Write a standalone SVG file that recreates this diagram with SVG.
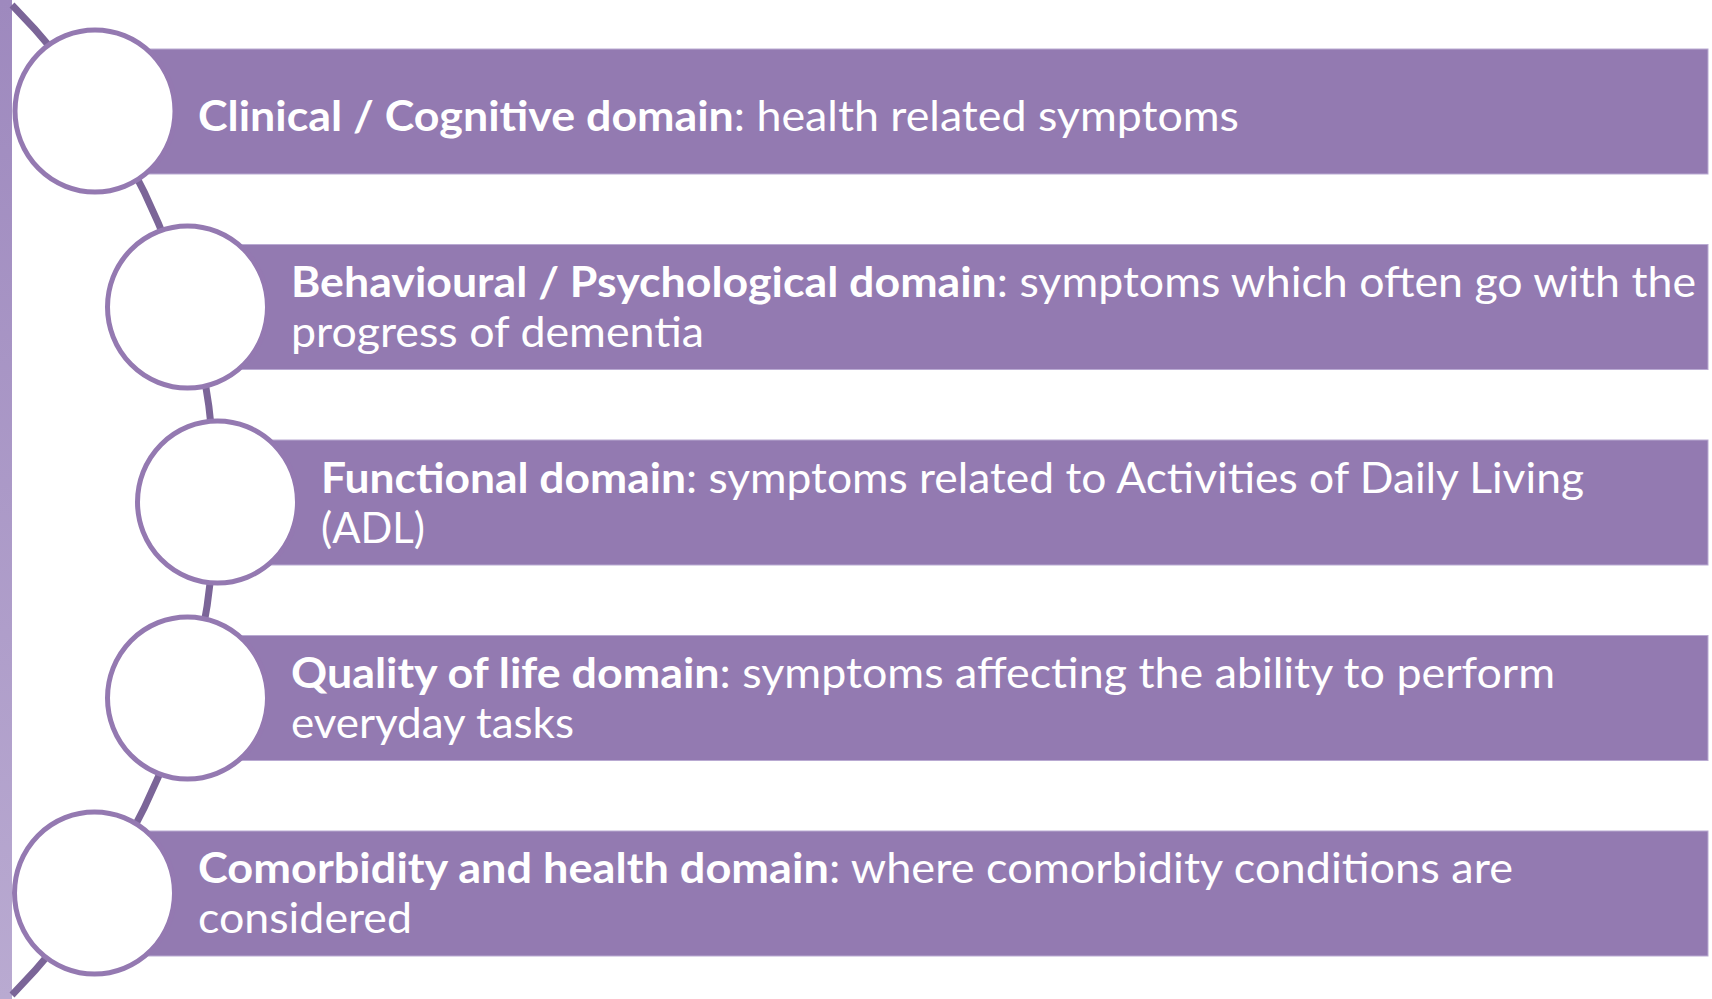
<svg xmlns="http://www.w3.org/2000/svg" width="1712" height="999" viewBox="0 0 1712 999">
<style>
.bar{fill:#937ab1;stroke:#b9aad2;stroke-width:1}
.ring{fill:#ffffff;stroke:#9479b1;stroke-width:5}
.label{font-family:Lato,"Liberation Sans",sans-serif;font-size:42px;fill:#ffffff}
.b{font-weight:700}
.arc{fill:none;stroke:#7b6598;stroke-width:7}
</style>
<defs>
<linearGradient id="side" x1="0" y1="0" x2="0" y2="1">
<stop offset="0" stop-color="#9e89be"/>
<stop offset="1" stop-color="#b9aad1"/>
</linearGradient>
</defs>
<rect x="0" y="0" width="1712" height="999" fill="#ffffff"/>
<rect id="sidebar" x="0" y="0" width="12" height="999" fill="url(#side)"/>
<g id="connectors">
<path class="arc" d="M 12 5 A 705 705 0 0 1 12 995"/>
</g>
<g id="node1">
<rect class="bar" x="95" y="49" width="1613" height="125"/>
<ellipse class="ring" cx="95" cy="111" rx="80" ry="81"/>
<text class="label" x="198" y="131" textLength="1041" lengthAdjust="spacingAndGlyphs"><tspan class="b">Clinical / Cognitive domain</tspan>: health related symptoms</text>
</g>
<g id="node2">
<rect class="bar" x="187" y="244.5" width="1521" height="125"/>
<ellipse class="ring" cx="187.5" cy="307" rx="80" ry="81"/>
<text class="label" x="291" y="297" textLength="1405" lengthAdjust="spacingAndGlyphs"><tspan class="b">Behavioural / Psychological domain</tspan>: symptoms which often go with the</text>
<text class="label" x="291" y="347" textLength="413" lengthAdjust="spacingAndGlyphs">progress of dementia</text>
</g>
<g id="node3">
<rect class="bar" x="217" y="440" width="1491" height="125"/>
<ellipse class="ring" cx="217.5" cy="502" rx="80" ry="81"/>
<text class="label" x="321" y="493" textLength="1263" lengthAdjust="spacingAndGlyphs"><tspan class="b">Functional domain</tspan>: symptoms related to Activities of Daily Living</text>
<text class="label" x="321" y="543" textLength="104" lengthAdjust="spacingAndGlyphs">(ADL)</text>
</g>
<g id="node4">
<rect class="bar" x="187" y="635.5" width="1521" height="125"/>
<ellipse class="ring" cx="187.5" cy="698" rx="80" ry="81"/>
<text class="label" x="291" y="688" textLength="1264" lengthAdjust="spacingAndGlyphs"><tspan class="b">Quality of life domain</tspan>: symptoms affecting the ability to perform</text>
<text class="label" x="291" y="738" textLength="283" lengthAdjust="spacingAndGlyphs">everyday tasks</text>
</g>
<g id="node5">
<rect class="bar" x="95" y="831" width="1613" height="125"/>
<ellipse class="ring" cx="94.5" cy="893" rx="80" ry="81"/>
<text class="label" x="198" y="883" textLength="1315" lengthAdjust="spacingAndGlyphs"><tspan class="b">Comorbidity and health domain</tspan>: where comorbidity conditions are</text>
<text class="label" x="198" y="933" textLength="214" lengthAdjust="spacingAndGlyphs">considered</text>
</g>
</svg>
